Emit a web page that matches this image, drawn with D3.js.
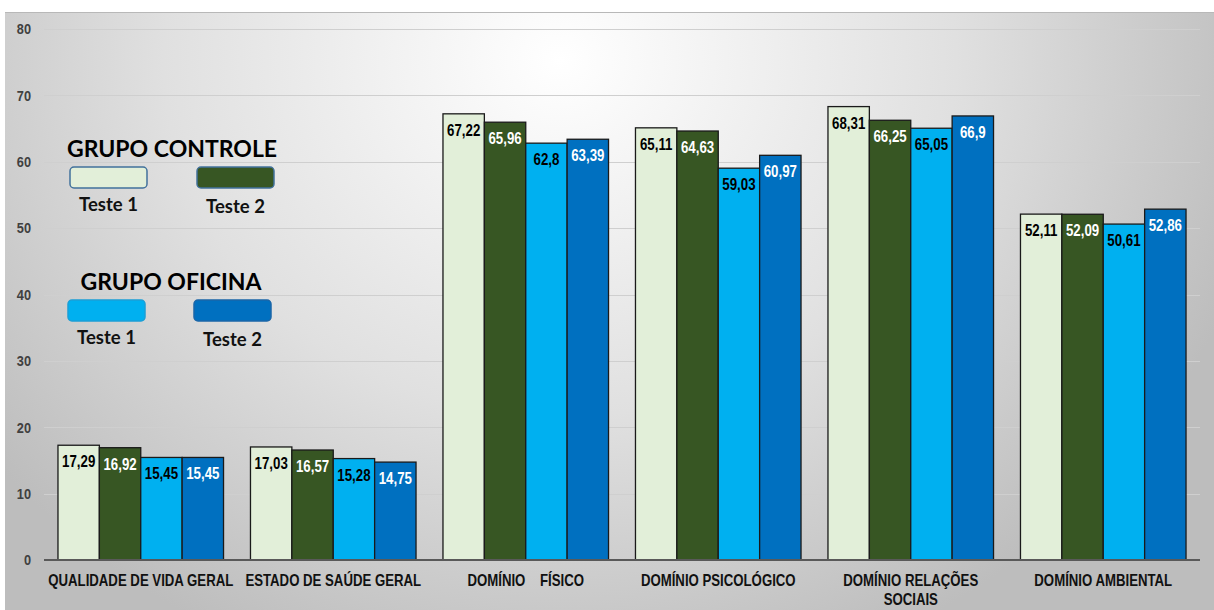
<!DOCTYPE html>
<html><head><meta charset="utf-8">
<script src="https://cdn.jsdelivr.net/npm/d3@7/dist/d3.min.js"></script>
<style>html,body{margin:0;padding:0;background:#fff;}svg{display:block;}</style>
</head><body>
<svg id="c" width="1214" height="610"></svg>
<script>
const categories = ["QUALIDADE DE VIDA GERAL","ESTADO DE SAÚDE GERAL","DOMÍNIO    FÍSICO","DOMÍNIO PSICOLÓGICO","DOMÍNIO RELAÇÕES SOCIAIS","DOMÍNIO AMBIENTAL"];
const seriesNames = ["Controle Teste 1","Controle Teste 2","Oficina Teste 1","Oficina Teste 2"];
const controle1 = [17.29,17.03,67.22,65.11,68.31,52.11];
const controle2 = [16.92,16.57,65.96,64.63,66.25,52.09];
const oficina1  = [15.45,15.28,62.8,59.03,65.05,50.61];
const oficina2  = [15.45,14.75,63.39,60.97,66.9,52.86];
const yTicks = [0,10,20,30,40,50,60,70,80];

const seriesValues = [controle1, controle2, oficina1, oficina2];
const colors = ["#E2EFD9","#375623","#00B0F0","#0070C0"];
const labelColors = ["#000","#fff","#000","#fff"];
const af = "'Liberation Sans',Arial,sans-serif";

const svg = d3.select("#c");
const defs = svg.append("defs");
const rg = defs.append("radialGradient").attr("id","bg")
  .attr("gradientUnits","userSpaceOnUse").attr("cx",560).attr("cy",60).attr("r",720)
  .attr("gradientTransform","translate(560,60) scale(1,0.9) translate(-560,-60)");
rg.append("stop").attr("offset","0").attr("stop-color","#ffffff");
rg.append("stop").attr("offset","0.55").attr("stop-color","#e0e0e0");
rg.append("stop").attr("offset","1").attr("stop-color","#bdbdbd");

svg.append("rect").attr("x",5).attr("y",12).attr("width",1209).attr("height",598).attr("fill","url(#bg)");
svg.append("line").attr("x1",5).attr("x2",1214).attr("y1",12.5).attr("y2",12.5).attr("stroke","#b8b8b8").attr("stroke-width",1);

const x0 = d3.scaleBand().domain(categories).range([44.5,1199.5]).paddingInner(0.14).paddingOuter(0.07);
const x1 = d3.scaleBand().domain(seriesNames).range([0,x0.bandwidth()]).padding(0);
const y = d3.scaleLinear().domain([0,80]).range([560,29]);

// condensed text helper
function ctext(parent, x, yy, str, size, sx, fill, anchor){
  const g = parent.append("g").attr("transform",`translate(${x},${yy}) scale(${sx},1)`);
  return g.append("text").attr("x",0).attr("y",0).attr("text-anchor",anchor||"middle")
    .attr("font-family",af).attr("font-weight","bold").attr("font-size",size).attr("fill",fill)
    .style("white-space","pre").text(str);
}

// gridlines
svg.append("g").selectAll("line").data(yTicks.filter(t=>t>0)).join("line")
  .attr("x1",44).attr("x2",1200).attr("y1",d=>Math.round(y(d))+0.5).attr("y2",d=>Math.round(y(d))+0.5)
  .attr("stroke","#cfcfcf").attr("stroke-width",1);

// y labels
const yl = svg.append("g");
yTicks.forEach(t=>ctext(yl,31,y(t)+5.3,String(t),14.5,0.88,"#404040","end"));

// bars
const groups = svg.append("g").selectAll("g").data(categories).join("g")
  .attr("transform",d=>`translate(${x0(d)},0)`);
groups.each(function(cat,ci){
  const g = d3.select(this);
  seriesNames.forEach((s,si)=>{
    const v = seriesValues[si][ci];
    g.append("rect").attr("x",x1(s)).attr("y",y(v)).attr("width",x1.bandwidth()).attr("height",y(0)-y(v))
      .attr("fill",colors[si]).attr("stroke","#1a1a1a").attr("stroke-width",1.3);
    ctext(g, x1(s)+x1.bandwidth()/2, y(v)+22, String(v).replace(".",","), 16, 0.83, labelColors[si], "middle");
  });
});

// zero axis
svg.append("line").attr("x1",44).attr("x2",1200).attr("y1",560).attr("y2",560).attr("stroke","#595959").attr("stroke-width",2);

// category labels
const catLines = {"DOMÍNIO RELAÇÕES SOCIAIS":["DOMÍNIO RELAÇÕES","SOCIAIS"]};
const cl = svg.append("g");
categories.forEach(c=>{
  const lines = catLines[c] || [c];
  lines.forEach((l,i)=>ctext(cl, x0(c)+x0.bandwidth()/2, 586+i*19, l, 16.5, 0.8, "#111", "middle"));
});

// legend
const lf = "Lato,'Open Sans',sans-serif";
function legendBlock(title, cx, ty, boxes){
  svg.append("text").attr("x",cx).attr("y",ty).attr("text-anchor","middle").attr("font-family",lf)
    .attr("font-weight","bold").attr("font-size",23).attr("fill","#000").text(title);
  boxes.forEach(b=>{
    svg.append("rect").attr("x",b.x).attr("y",b.y).attr("width",77).attr("height",21).attr("rx",4)
      .attr("fill",b.fill).attr("stroke",b.stroke).attr("stroke-width",1.5);
    svg.append("text").attr("x",b.x+38.5).attr("y",b.ty).attr("text-anchor","middle").attr("font-family",lf)
      .attr("font-weight","bold").attr("font-size",18.5).attr("fill","#111").text(b.label);
  });
}
legendBlock("GRUPO CONTROLE",172,157,[
  {x:70,y:167,fill:colors[0],stroke:"#41719C",label:"Teste 1",ty:211},
  {x:197,y:167,fill:colors[1],stroke:"#41719C",label:"Teste 2",ty:213}
]);
legendBlock("GRUPO OFICINA",171,290,[
  {x:68,y:300,fill:colors[2],stroke:"#1b9fd6",label:"Teste 1",ty:344},
  {x:194,y:300,fill:colors[3],stroke:"#1a65a8",label:"Teste 2",ty:346}
]);
</script>
</body></html>
